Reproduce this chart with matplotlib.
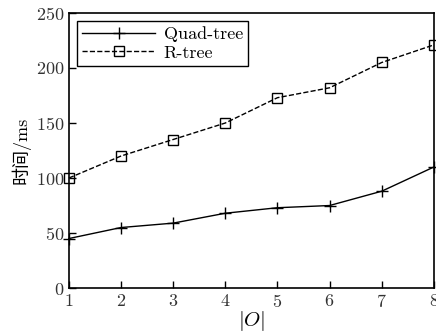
import matplotlib
matplotlib.use("Agg")
import matplotlib.pyplot as plt

# Data
obj_counts = [1, 2, 3, 4, 5, 6, 7, 8]
quad_tree_ms = [45, 55, 59, 68, 73, 75, 88, 110]
r_tree_ms = [100, 120, 135, 150, 173, 182, 205, 221]
y_ticks = [0, 50, 100, 150, 200, 250]

plt.rcParams['font.family'] = ['cmr10', 'Noto Sans CJK SC', 'DejaVu Sans']
plt.rcParams['mathtext.fontset'] = 'cm'
plt.rcParams['axes.formatter.use_mathtext'] = True


def main():
    fig = plt.figure(figsize=(4.36, 3.33), dpi=100)
    ax = fig.add_axes([0.158, 0.135, 0.837, 0.826])

    ax.plot(obj_counts, quad_tree_ms, color='black', linestyle='-', linewidth=1.0,
            marker='+', markersize=8, markeredgewidth=1.0, label='Quad-tree', clip_on=False)
    ax.plot(obj_counts, r_tree_ms, color='black', linestyle='--', linewidth=1.0,
            marker='s', markersize=7, markerfacecolor='none', markeredgewidth=1.0,
            label='R-tree', clip_on=False)

    ax.set_xlim(1, 8)
    ax.set_ylim(0, 250)
    ax.set_xticks(obj_counts)
    ax.set_yticks(y_ticks)
    ax.tick_params(direction='in', length=5, width=1, labelsize=13, top=False, right=False,
                   labelcolor='#333333')
    for spine in ax.spines.values():
        spine.set_linewidth(1.2)

    ax.set_xlabel('$|O|$', fontsize=15, labelpad=-1)
    ax.set_ylabel('时间/ms', fontsize=13, labelpad=4)

    leg = ax.legend(loc='upper left', fontsize=13, fancybox=False, framealpha=1,
                    edgecolor='black', handlelength=4, handletextpad=0.5, borderpad=0.3,
                    labelspacing=0.15, borderaxespad=0.45)
    leg.get_frame().set_linewidth(1.0)

    fig.savefig('out.png', dpi=100)


if __name__ == "__main__":
    main()
